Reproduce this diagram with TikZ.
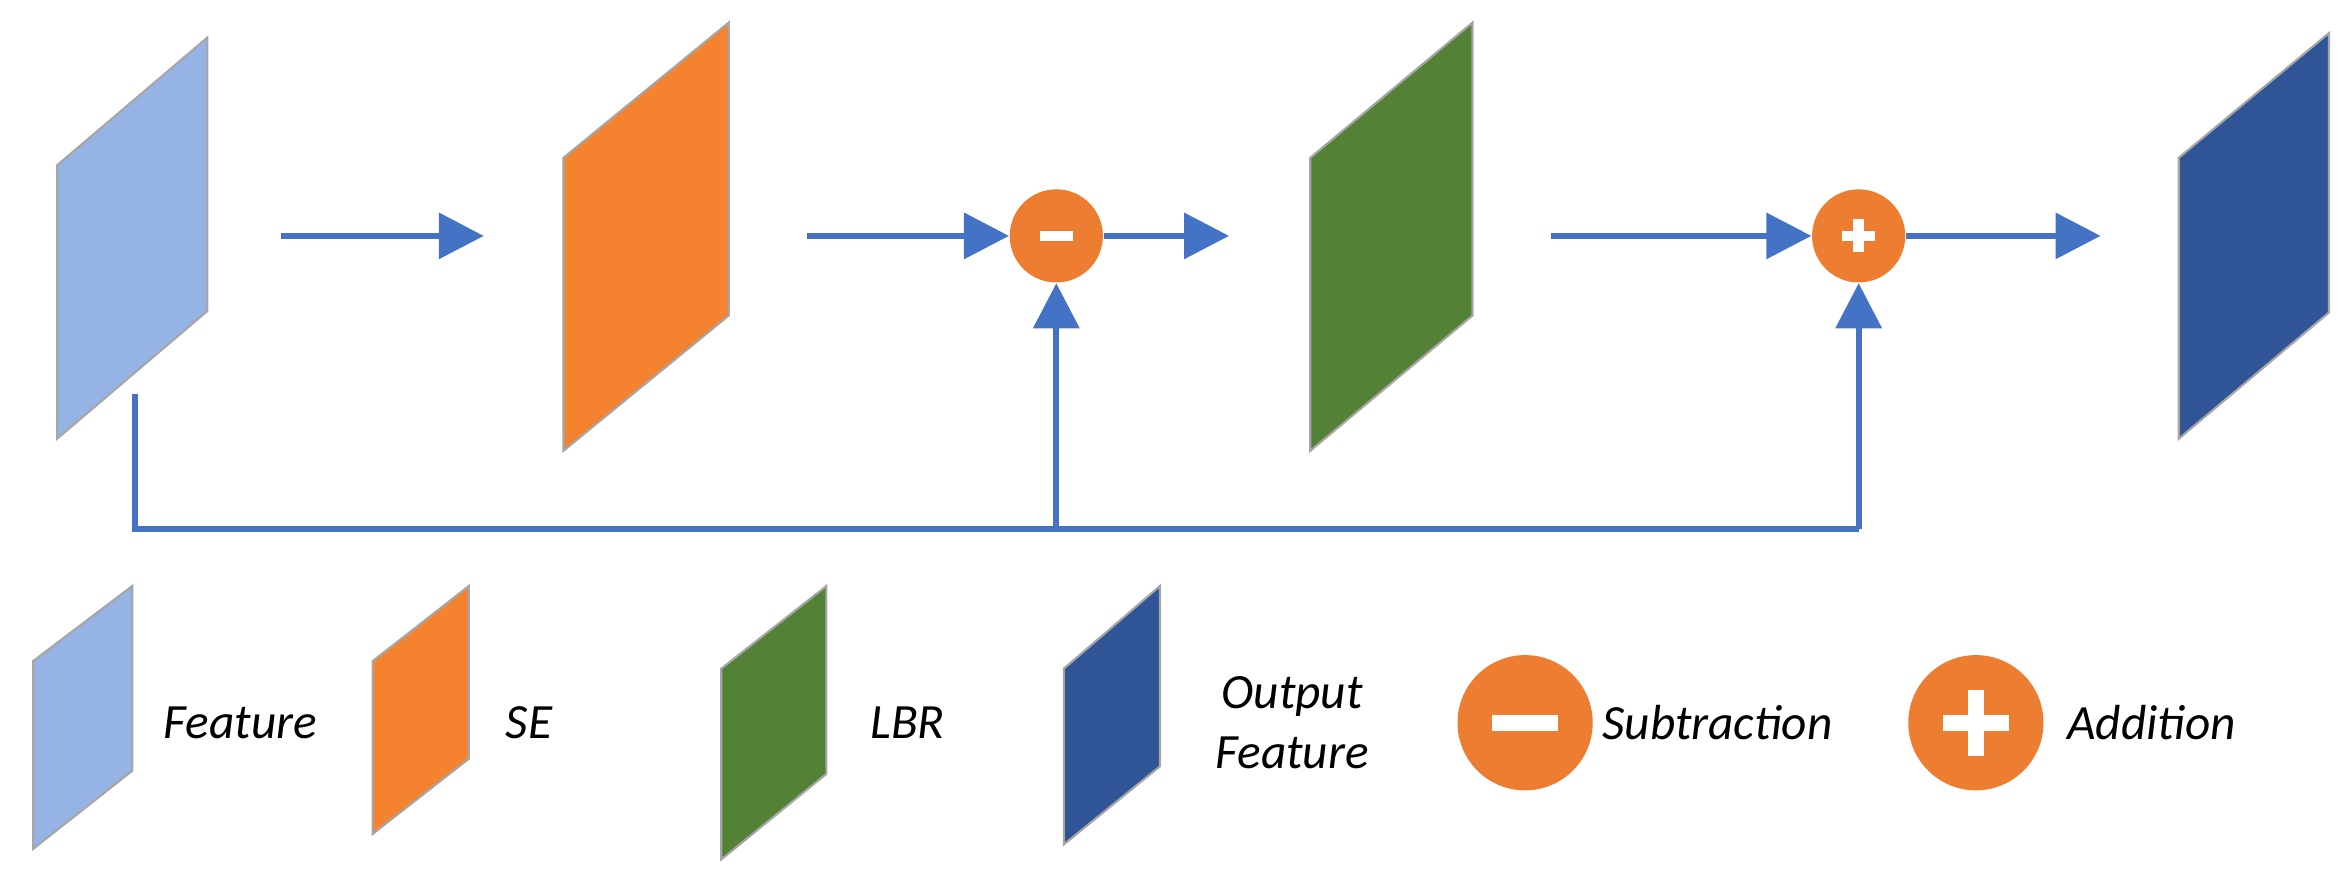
\documentclass[tikz,border=0pt]{standalone}
\usepackage{fontspec}
\setmainfont{Carlito}
\usetikzlibrary{arrows.meta}
\definecolor{lb}{HTML}{95B3E5}
\definecolor{og}{HTML}{F4822F}
\definecolor{oc}{HTML}{ED7D31}
\definecolor{gn}{HTML}{538135}
\definecolor{db}{HTML}{2F5597}
\definecolor{ar}{HTML}{4472C4}
\begin{document}
\begin{tikzpicture}[x=0.015cm,y=-0.015cm,
  feat/.style={draw=gray!70,line width=0.6pt},
  flow/.style={ar,line width=1.8pt,-{Triangle[length=0.45cm,width=0.45cm]}},
  line/.style={ar,line width=1.8pt},
  op/.style={circle,fill=oc,minimum size=#1,inner sep=0pt},
  sign/.style={white,line width=#1},
  lab/.style={font=\itshape\fontsize{14}{17}\selectfont,align=center}]
\useasboundingbox (0,0) rectangle (1560,591);
% top parallelograms
\fill[lb,feat] (38,110)--(138,25)--(138,207)--(38,292)--cycle;
\fill[og,feat] (375,105)--(485,15)--(485,210)--(375,300)--cycle;
\fill[gn,feat] (872,105)--(980,15)--(980,210)--(872,300)--cycle;
\fill[db,feat] (1450,105)--(1550,22)--(1550,208)--(1450,292)--cycle;
% operators
\node[op=0.93cm] (m) at (703,157) {};
\draw[sign=3pt] (692,157)--(714,157);
\node[op=0.93cm] (p) at (1237,157) {};
\draw[sign=3pt] (1226,157)--(1248,157) (1237,146)--(1237,168);
\coordinate (a1) at (187,157); \coordinate (a2) at (322,157);
\coordinate (b1) at (537,157);
\coordinate (c2) at (818,157);
\coordinate (d1) at (1032,157);
\coordinate (e2) at (1398,157);
\coordinate (s) at (90,262);
\coordinate (s1) at (90,352);
\coordinate (jm) at (703,352);
\coordinate (jp) at (1237,352);
\draw[flow] (a1)--(a2);
\draw[flow] (b1)--(m.west);
\draw[flow] (m.east)--(c2);
\draw[flow] (d1)--(p.west);
\draw[flow] (p.east)--(e2);
\draw[line] (s)--(s1)--(jp);
\draw[flow] (jm)--(m.south);
\draw[flow] (jp)--(p.south);
% legend
\fill[lb,feat] (22,440)--(88,390)--(88,513)--(22,565)--cycle;
\node[lab] (t1) at (160,481) {Feature};
\fill[og,feat] (248,440)--(312,390)--(312,505)--(248,555)--cycle;
\node[lab] (t2) at (352,481) {SE};
\fill[gn,feat] (480,445)--(550,390)--(550,515)--(480,572)--cycle;
\node[lab] (t3) at (604,481) {LBR};
\fill[db,feat] (708,445)--(772,390)--(772,510)--(708,562)--cycle;
\node[lab] (t4) at (860,481) {Output\\Feature};
\node[op=1.35cm] (lm) at (1015,481) {};
\draw[sign=4.5pt] (993,481)--(1037,481);
\node[lab] (t5) at (1143,481) {Subtraction};
\node[op=1.35cm] (lp) at (1315,481) {};
\draw[sign=4.5pt] (1293,481)--(1337,481) (1315,459)--(1315,503);
\node[lab] (t6) at (1432,481) {Addition};
\end{tikzpicture}
\end{document}
